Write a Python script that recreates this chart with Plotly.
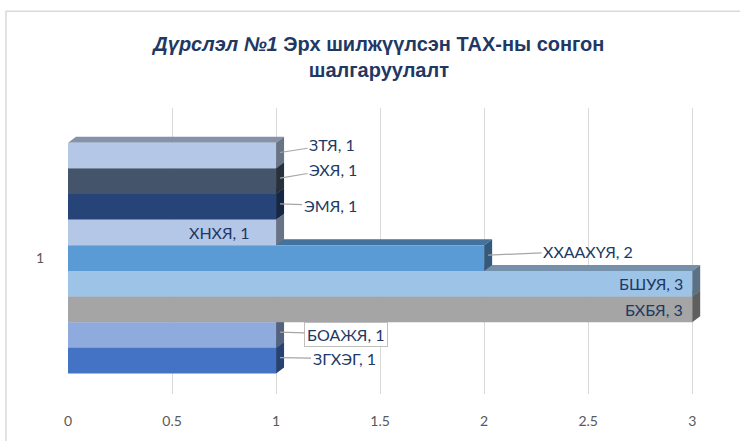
import plotly.graph_objects as go

# ---- data (bottom to top, as drawn) ----
series = ["ЗГХЭГ", "БОАЖЯ", "БХБЯ", "БШУЯ", "ХХААХҮЯ", "ХНХЯ", "ЭМЯ", "ЭХЯ", "ЗТЯ"]
values = [1, 1, 3, 3, 2, 1, 1, 1, 1]
colors = ["#4472C4", "#8FAADC", "#A5A5A5", "#9DC3E6", "#5B9BD5",
          "#B4C7E7", "#264478", "#44546A", "#B4C7E7"]
category = "1"
x_ticks = [0, 0.5, 1, 1.5, 2, 2.5, 3]
# label style per series: "in" = inside end, "out" = outside with leader line
label_mode = ["out", "box", "in", "in", "out", "in", "out", "out", "out"]

TITLE_COLOR = "#1F3864"
LABEL_COLOR = "#203864"

W, H = 740, 441
ML, MR, MT, MB = 68, 27, 108, 43
XMAX = 3.1
YMIN, YMAX = -1.30, 9.85
px_x = (W - ML - MR) / XMAX
px_y = (H - MT - MB) / (YMAX - YMIN)
DX = 8 / px_x   # 3-D depth in data units
DY = 6 / px_y


def shade(hexc, f):
    h = hexc.lstrip("#")
    r, g, b = (int(h[i:i + 2], 16) for i in (0, 2, 4))
    return "rgb(%d,%d,%d)" % (r * f, g * f, b * f)


fig = go.Figure()
for i, (name, v, c) in enumerate(zip(series, values, colors)):
    fig.add_trace(go.Bar(
        x=[v], y=[i], orientation="h", name=name, width=1,
        marker=dict(color=c, line=dict(width=0)),
        showlegend=False, hoverinfo="skip"))

shapes = []
for i, (v, c) in enumerate(zip(values, colors)):
    y0, y1 = i - 0.5, i + 0.5
    # top face
    shapes.append(dict(
        type="path", xref="x", yref="y", layer="between",
        path=f"M 0 {y1} L {DX} {y1 + DY} L {v + DX} {y1 + DY} L {v} {y1} Z",
        fillcolor=shade(c, 0.74), line=dict(width=0)))
    # side face
    shapes.append(dict(
        type="path", xref="x", yref="y", layer="between",
        path=f"M {v} {y0} L {v + DX} {y0 + DY} L {v + DX} {y1 + DY} L {v} {y1} Z",
        fillcolor=shade(c, 0.58), line=dict(width=0)))

# chart-area border
pw, ph = W - ML - MR, H - MT - MB
shapes.append(dict(type="path", xref="paper", yref="paper", layer="above",
                   path=f"M {(6 - ML) / pw} -0.3 L {(6 - ML) / pw} {(H - MB - 10) / ph} L 1.2 {(H - MB - 10) / ph}",
                   line=dict(color="#D9D9D9", width=1.5)))

# leader-line offsets (pixels) for outside labels
offsets = {"ЗТЯ": (52, -8), "ЭХЯ": (53, -9), "ЭМЯ": (50, 2),
           "ХХААХҮЯ": (100, -4), "БОАЖЯ": (66, 2), "ЗГХЭГ": (64, 1)}
inside_shift = {"ХНХЯ": -24, "БШУЯ": -7, "БХБЯ": -7}

annotations = []
for i, (name, v, mode) in enumerate(zip(series, values, label_mode)):
    txt = f"{name}, {v}"
    font = dict(family="Lato, Noto Sans, sans-serif", size=16, color=LABEL_COLOR)
    if mode == "in":
        annotations.append(dict(x=v, y=i, xref="x", yref="y", text=txt,
                                showarrow=False, xanchor="right",
                                xshift=inside_shift[name], font=font))
    else:
        ax, ay = offsets[name]
        a = dict(x=v + DX / 2, y=i + DY / 2, xref="x", yref="y", text=txt,
                 showarrow=True, arrowhead=0, arrowwidth=1.2,
                 arrowcolor="#A6A6A6", ax=ax, ay=ay, font=font)
        if mode == "box":
            a.update(bordercolor="#BFBFBF", borderwidth=1, bgcolor="white",
                     borderpad=2)
        annotations.append(a)

fig.update_layout(
    width=W, height=H,
    margin=dict(l=ML, r=MR, t=MT, b=MB),
    paper_bgcolor="white", plot_bgcolor="white",
    barmode="overlay",
    title=dict(
        text="<b><i>Дүрслэл №1</i> Эрх шилжүүлсэн ТАХ-ны сонгон<br>шалгаруулалт</b>",
        x=0.512, xanchor="center", y=0.885, yanchor="top",
        font=dict(family="Liberation Sans, Arial, sans-serif", size=20,
                  color=TITLE_COLOR)),
    xaxis=dict(range=[0, XMAX], tickvals=x_ticks,
               ticktext=[str(t) for t in x_ticks],
               showgrid=True, gridcolor="#D9D9D9", gridwidth=1,
               zeroline=False, showline=False,
               ticks="outside", ticklen=14, tickcolor="rgba(0,0,0,0)",
               tickfont=dict(family="Lato, sans-serif", size=14, color="#595959")),
    yaxis=dict(range=[YMIN, YMAX], tickvals=[(len(series) - 1) / 2],
               ticktext=[category], showgrid=False, zeroline=False,
               showline=False, ticks="outside", ticklen=20,
               tickcolor="rgba(0,0,0,0)",
               tickfont=dict(family="Lato, sans-serif", size=14, color="#595959")),
    shapes=shapes,
    annotations=annotations,
)

fig.write_html("out.html", config={"displayModeBar": False},
               post_script="document.body.style.margin='0px';")
